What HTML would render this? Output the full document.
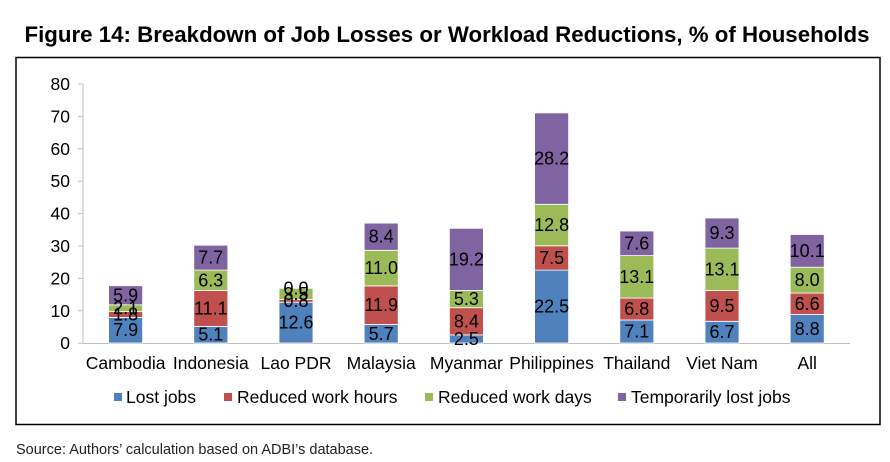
<!DOCTYPE html><html><head><style>body{margin:0;background:#fff;width:890px;height:462px;overflow:hidden}svg{display:block;font-family:"Liberation Sans",Arial,sans-serif}</style></head><body>
<svg width="890" height="462" viewBox="0 0 890 462">
<text x="447" y="42" text-anchor="middle" font-size="22" font-weight="bold" textLength="845" lengthAdjust="spacingAndGlyphs">Figure 14: Breakdown of Job Losses or Workload Reductions, % of Households</text>
<rect x="16" y="57.5" width="864" height="367" fill="none" stroke="#000" stroke-width="1.5"/>
<g stroke="#bfbfbf" stroke-width="1"><line x1="83" y1="84" x2="83" y2="343"/><line x1="83" y1="343.5" x2="850" y2="343.5"/>
<line x1="78" y1="84" x2="83" y2="84"/><line x1="78" y1="116.4" x2="83" y2="116.4"/><line x1="78" y1="148.8" x2="83" y2="148.8"/><line x1="78" y1="181.2" x2="83" y2="181.2"/><line x1="78" y1="213.6" x2="83" y2="213.6"/><line x1="78" y1="246" x2="83" y2="246"/><line x1="78" y1="278.4" x2="83" y2="278.4"/><line x1="78" y1="310.8" x2="83" y2="310.8"/><line x1="78" y1="343.2" x2="83" y2="343.2"/></g>
<g font-size="17.5" text-anchor="end" dominant-baseline="central" fill="#000"><text x="70" y="84">80</text><text x="70" y="116.4">70</text><text x="70" y="148.8">60</text><text x="70" y="181.2">50</text><text x="70" y="213.6">40</text><text x="70" y="246">30</text><text x="70" y="278.4">20</text><text x="70" y="310.8">10</text><text x="70" y="343.2">0</text></g>
<g stroke="#fff" stroke-width="0.8">
<rect x="108.6" y="317.4" width="34" height="25.6" fill="#4F81BD"/><rect x="108.6" y="311.6" width="34" height="5.8" fill="#C0504D"/><rect x="108.6" y="304.8" width="34" height="6.8" fill="#9BBB59"/><rect x="108.6" y="285.7" width="34" height="19.1" fill="#8064A2"/>
<rect x="193.8" y="326.5" width="34" height="16.5" fill="#4F81BD"/><rect x="193.8" y="290.5" width="34" height="36" fill="#C0504D"/><rect x="193.8" y="270.1" width="34" height="20.4" fill="#9BBB59"/><rect x="193.8" y="245.2" width="34" height="24.9" fill="#8064A2"/>
<rect x="279" y="302.2" width="34" height="40.8" fill="#4F81BD"/><rect x="279" y="299.6" width="34" height="2.6" fill="#C0504D"/><rect x="279" y="288.3" width="34" height="11.3" fill="#9BBB59"/>
<rect x="364.2" y="324.5" width="34" height="18.5" fill="#4F81BD"/><rect x="364.2" y="285.9" width="34" height="38.6" fill="#C0504D"/><rect x="364.2" y="250.3" width="34" height="35.6" fill="#9BBB59"/><rect x="364.2" y="223.1" width="34" height="27.2" fill="#8064A2"/>
<rect x="449.4" y="334.9" width="34" height="8.1" fill="#4F81BD"/><rect x="449.4" y="307.7" width="34" height="27.2" fill="#C0504D"/><rect x="449.4" y="290.5" width="34" height="17.2" fill="#9BBB59"/><rect x="449.4" y="228.3" width="34" height="62.2" fill="#8064A2"/>
<rect x="534.6" y="270.1" width="34" height="72.9" fill="#4F81BD"/><rect x="534.6" y="245.8" width="34" height="24.3" fill="#C0504D"/><rect x="534.6" y="204.3" width="34" height="41.5" fill="#9BBB59"/><rect x="534.6" y="112.9" width="34" height="91.4" fill="#8064A2"/>
<rect x="619.8" y="320" width="34" height="23" fill="#4F81BD"/><rect x="619.8" y="298" width="34" height="22" fill="#C0504D"/><rect x="619.8" y="255.6" width="34" height="42.4" fill="#9BBB59"/><rect x="619.8" y="231" width="34" height="24.6" fill="#8064A2"/>
<rect x="705" y="321.3" width="34" height="21.7" fill="#4F81BD"/><rect x="705" y="290.5" width="34" height="30.8" fill="#C0504D"/><rect x="705" y="248.1" width="34" height="42.4" fill="#9BBB59"/><rect x="705" y="218" width="34" height="30.1" fill="#8064A2"/>
<rect x="790.2" y="314.5" width="34" height="28.5" fill="#4F81BD"/><rect x="790.2" y="293.1" width="34" height="21.4" fill="#C0504D"/><rect x="790.2" y="267.2" width="34" height="25.9" fill="#9BBB59"/><rect x="790.2" y="234.5" width="34" height="32.7" fill="#8064A2"/>
</g>
<g font-size="18" text-anchor="middle" dominant-baseline="central" fill="#000">
<text x="125.6" y="330.2">7.9</text><text x="125.6" y="314.5">1.8</text><text x="125.6" y="308.2">2.1</text><text x="125.6" y="295.3">5.9</text>
<text x="210.8" y="334.7">5.1</text><text x="210.8" y="308.5">11.1</text><text x="210.8" y="280.3">6.3</text><text x="210.8" y="257.6">7.7</text>
<text x="296" y="322.6">12.6</text><text x="296" y="300.9">0.8</text><text x="296" y="293.9">3.5</text><text x="296" y="288.3">0.0</text>
<text x="381.2" y="333.8">5.7</text><text x="381.2" y="305.2">11.9</text><text x="381.2" y="268.1">11.0</text><text x="381.2" y="236.7">8.4</text>
<text x="466.4" y="339">2.5</text><text x="466.4" y="321.3">8.4</text><text x="466.4" y="299.1">5.3</text><text x="466.4" y="259.4">19.2</text>
<text x="551.6" y="306.6">22.5</text><text x="551.6" y="258">7.5</text><text x="551.6" y="225.1">12.8</text><text x="551.6" y="158.6">28.2</text>
<text x="636.8" y="331.5">7.1</text><text x="636.8" y="309">6.8</text><text x="636.8" y="276.8">13.1</text><text x="636.8" y="243.3">7.6</text>
<text x="722" y="332.2">6.7</text><text x="722" y="305.9">9.5</text><text x="722" y="269.3">13.1</text><text x="722" y="233.1">9.3</text>
<text x="807.2" y="328.8">8.8</text><text x="807.2" y="303.8">6.6</text><text x="807.2" y="280.2">8.0</text><text x="807.2" y="250.9">10.1</text>
</g>
<g font-size="17.5" text-anchor="middle" fill="#000">
<text x="125.6" y="369">Cambodia</text><text x="210.8" y="369">Indonesia</text><text x="296" y="369">Lao PDR</text><text x="381.2" y="369">Malaysia</text><text x="466.4" y="369">Myanmar</text><text x="551.6" y="369">Philippines</text><text x="636.8" y="369">Thailand</text><text x="722" y="369">Viet Nam</text><text x="807.2" y="369">All</text>
</g>
<g font-size="17.5" fill="#000">
<rect x="114" y="393" width="8" height="8" fill="#4F81BD"/><text x="126" y="403">Lost jobs</text>
<rect x="224" y="393" width="8" height="8" fill="#C0504D"/><text x="237" y="403">Reduced work hours</text>
<rect x="425" y="393" width="8" height="8" fill="#9BBB59"/><text x="438" y="403">Reduced work days</text>
<rect x="618" y="393" width="8" height="8" fill="#8064A2"/><text x="631" y="403">Temporarily lost jobs</text>
</g>
<text x="16" y="454" font-size="14.5" fill="#222">Source: Authors’ calculation based on ADBI’s database.</text>
</svg></body></html>
